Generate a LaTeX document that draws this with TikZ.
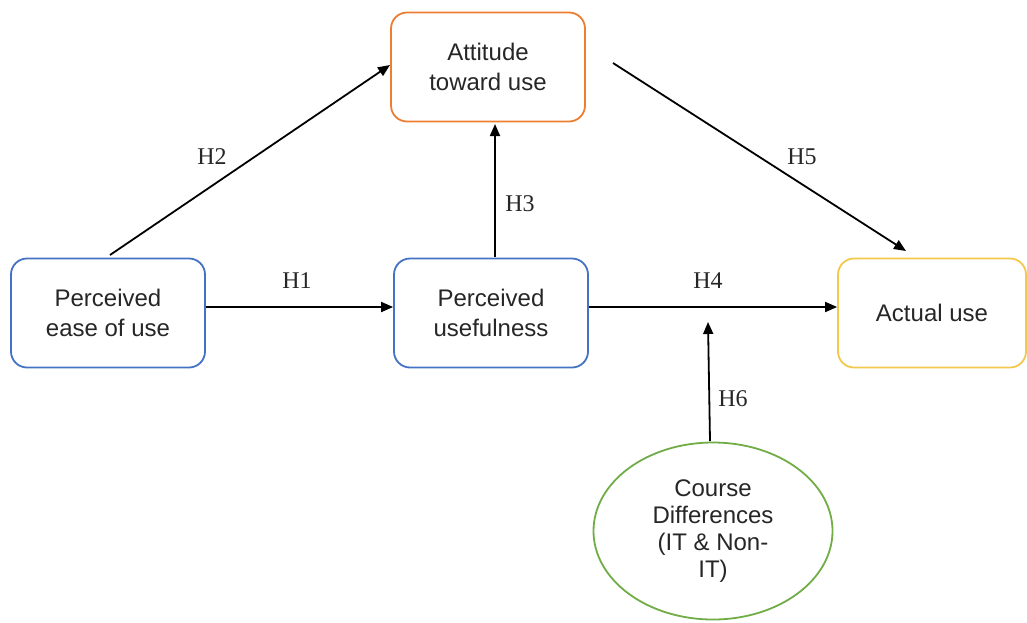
\documentclass[tikz,border=0pt]{standalone}
\usepackage{fontspec}
\setmainfont{Liberation Serif}
\setsansfont{Liberation Sans}
\usetikzlibrary{shapes.geometric,arrows.meta}
\definecolor{cblue}{HTML}{4472C4}
\definecolor{corange}{HTML}{ED7D31}
\definecolor{cyellow}{HTML}{F2C94C}
\definecolor{cgreen}{HTML}{70AD47}
\tikzset{
  box/.style={draw, line width=1.8pt, rounded corners=16pt, minimum width=194pt, minimum height=109pt,
    align=center, font=\sffamily\fontsize{24}{30}\selectfont, text=black!85},
  arr/.style={-{Triangle[length=12pt,width=10pt]}, line width=1.8pt},
  hlab/.style={font=\fontsize{24}{28}\selectfont, text=black!85}
}
\begin{document}
\begin{tikzpicture}[x=1pt,y=-1pt]
\useasboundingbox (0,0) rectangle (1027,622);
\node[box, draw=corange] (att) at (488,67) {Attitude\\toward use};
\node[box, draw=cblue] (peou) at (108,313) {Perceived\\ease of use};
\node[box, draw=cblue] (pu) at (491,313) {Perceived\\usefulness};
\node[box, draw=cyellow, minimum width=188pt] (au) at (932,313) {Actual use};
\node[ellipse, draw=cgreen, line width=1.8pt, minimum width=239pt, minimum height=177pt, inner sep=0pt,
  align=center, font=\sffamily\fontsize{24}{27}\selectfont, text=black!85] (cd) at (713,531)
  {Course\\Differences\\(IT \& Non-\\IT)};
\coordinate (h2s) at (110,255);
\coordinate (h2e) at (390,65);
\coordinate (h3s) at (495,257);
\coordinate (h3e) at (495,124);
\coordinate (h1s) at (peou.east |- 0,307);
\coordinate (h1e) at (pu.west |- 0,307);
\coordinate (h4s) at (pu.east |- 0,307);
\coordinate (h4e) at (au.west |- 0,307);
\coordinate (h5s) at (613,63);
\coordinate (h5e) at (906,251);
\coordinate (h6s) at (710,441);
\coordinate (h6e) at (708,322);
\draw[arr] (h2s) -- (h2e);
\draw[arr] (h3s) -- (h3e);
\draw[arr] (h1s) -- (h1e);
\draw[arr] (h4s) -- (h4e);
\draw[arr] (h5s) -- (h5e);
\draw[arr] (h6s) -- (h6e);
\node[hlab] (lh2) at (212,157) {H2};
\node[hlab] (lh3) at (520,204) {H3};
\node[hlab] (lh1) at (297,281) {H1};
\node[hlab] (lh4) at (708,281) {H4};
\node[hlab] (lh5) at (802,157) {H5};
\node[hlab] (lh6) at (733,399) {H6};
\end{tikzpicture}
\end{document}
